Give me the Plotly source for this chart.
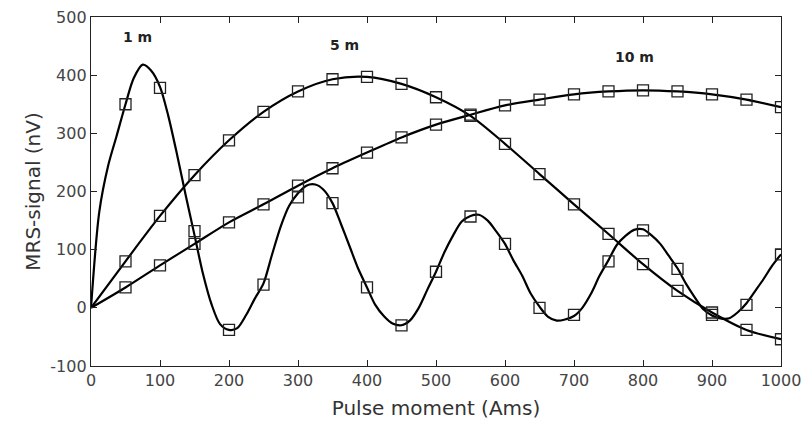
import plotly.graph_objects as go

# Marker data (pulse moments)
q_marks = [50, 100, 150, 200, 250, 300, 350, 400, 450, 500,
           550, 600, 650, 700, 750, 800, 850, 900, 950, 1000]
sig_1m = [350, 378, 132, -38, 40, 190, 180, 35, -30, 62,
          157, 110, 0, -12, 80, 133, 67, -12, 5, 92]
sig_5m = [80, 158, 228, 288, 337, 372, 393, 397, 385, 362,
          330, 282, 230, 178, 127, 75, 29, -8, -38, -54]
sig_10m = [35, 73, 110, 147, 178, 210, 240, 267, 293, 315,
           332, 348, 358, 367, 372, 374, 372, 367, 358, 345]

# Model curves
q_line_1m = [0, 12, 25, 37, 50, 62, 75, 87, 100, 112, 125, 137, 150, 162, 175, 187,
             200, 212, 225, 237, 250, 262, 275, 287, 300, 312, 325, 337, 350, 362,
             375, 387, 400, 412, 425, 437, 450, 462, 475, 487, 500, 512, 525, 537,
             550, 562, 575, 587, 600, 612, 625, 637, 650, 662, 675, 687, 700, 712,
             725, 737, 750, 762, 775, 787, 800, 812, 825, 837, 850, 862, 875, 887,
             900, 912, 925, 937, 950, 962, 975, 987, 1000]
sig_line_1m = [0, 165, 245, 295, 350, 395, 418, 408, 380, 330, 262, 195, 125, 60, 5, -28,
               -38, -35, -12, 15, 42, 90, 140, 175, 197, 210, 212, 203, 180, 145,
               105, 68, 35, 5, -15, -27, -30, -22, 0, 30, 62, 95, 125, 148,
               158, 160, 150, 132, 110, 82, 55, 25, 2, -15, -22, -20, -14, 0,
               25, 55, 82, 108, 124, 134, 135, 125, 110, 90, 68, 42, 18, -2,
               -13, -18, -18, -8, 8, 28, 50, 72, 92]
q_line = [0] + q_marks
sig_line_5m = [0] + sig_5m
sig_line_10m = [0] + sig_10m

x_ticks = [0, 100, 200, 300, 400, 500, 600, 700, 800, 900, 1000]
x_ticklabels = ["0", "100", "200", "300", "400", "500", "600", "700", "800", "900", "1000"]
y_ticks = [-100, 0, 100, 200, 300, 400, 500]
y_ticklabels = ["-100", "0", "100", "200", "300", "400", "500"]

labels = ["1 m", "5 m", "10 m"]
label_x = [68, 368, 787]
label_y = [466, 452, 432]

FONT = "DejaVu Sans, Arial, sans-serif"

fig = go.Figure()
for qx, qy in [(q_line_1m, sig_line_1m), (q_line, sig_line_5m), (q_line, sig_line_10m)]:
    fig.add_trace(go.Scatter(x=qx, y=qy, mode="lines",
                             line=dict(color="black", width=2.2, shape="spline", smoothing=0.8),
                             showlegend=False, hoverinfo="skip"))
for ys in [sig_1m, sig_5m, sig_10m]:
    fig.add_trace(go.Scatter(x=q_marks, y=ys, mode="markers",
                             marker=dict(symbol="square-open", size=11, color="#222",
                                         line=dict(width=1.3, color="#222")),
                             showlegend=False))

for t, x, y in zip(labels, label_x, label_y):
    fig.add_annotation(x=x, y=y, text="<b>" + t + "</b>", showarrow=False,
                       font=dict(family=FONT, size=14, color="#222"))

axis_common = dict(showgrid=False, zeroline=False, showline=True, linecolor="#222", linewidth=1.3,
                   mirror="ticks", ticks="inside", ticklen=6, tickwidth=1.2, tickcolor="#222",
                   automargin=False,
                   tickfont=dict(family=FONT, size=16, color="#444"))
fig.update_xaxes(range=[0, 1000], tickmode="array", tickvals=x_ticks, ticktext=x_ticklabels,
                 title=dict(text="Pulse moment (Ams)", standoff=11,
                            font=dict(family=FONT, size=20, color="#333")),
                 **axis_common)
fig.update_yaxes(range=[-100, 500], tickmode="array", tickvals=y_ticks, ticktext=y_ticklabels,
                 title=dict(text="MRS-signal (nV)", standoff=4,
                            font=dict(family=FONT, size=20, color="#333")),
                 **axis_common)
fig.update_layout(width=804, height=423, margin=dict(l=91, r=23, t=17, b=57),
                  plot_bgcolor="white", paper_bgcolor="white")
fig.write_html("out.html", config={"displayModeBar": False},
               post_script="document.body.style.margin='0';document.body.style.overflow='hidden';")
